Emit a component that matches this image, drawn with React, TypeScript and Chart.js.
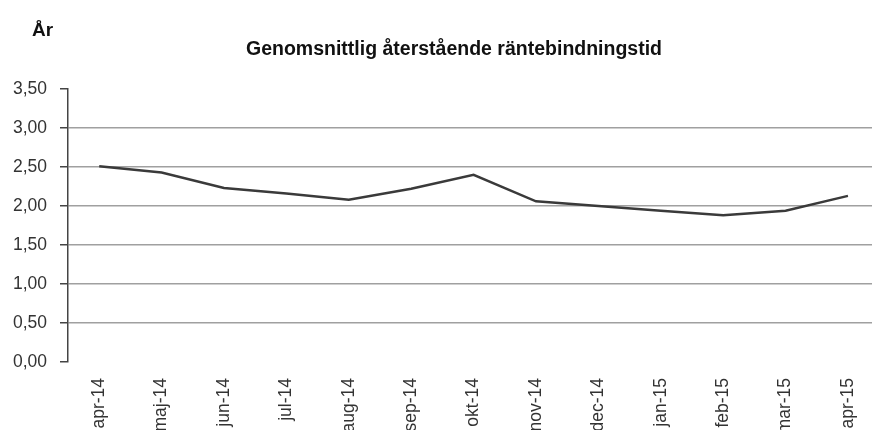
import React, { useEffect, useRef } from "react";
import { Chart, registerables } from "chart.js";

Chart.register(...registerables);

const categories = [
  "apr-14", "maj-14", "jun-14", "jul-14", "aug-14", "sep-14", "okt-14",
  "nov-14", "dec-14", "jan-15", "feb-15", "mar-15", "apr-15",
];
const values = [2.51, 2.43, 2.23, 2.16, 2.08, 2.22, 2.4, 2.06, 2.0, 1.94, 1.88, 1.94, 2.13];
const yTicks = [0, 0.5, 1, 1.5, 2, 2.5, 3, 3.5];
const titleText = "Genomsnittlig återstående räntebindningstid";
const unitText = "År";

const FONT = "'Liberation Sans', Arial, sans-serif";

const textPlugin = {
  id: "textPlugin",
  afterDraw(chart: any) {
    const ctx = chart.ctx;
    ctx.save();
    ctx.fillStyle = "#111";
    ctx.textBaseline = "alphabetic";
    ctx.font = `bold 19px ${FONT}`;
    ctx.textAlign = "left";
    ctx.fillText(unitText, 32, 36);
    ctx.font = `bold 19.5px ${FONT}`;
    ctx.textAlign = "center";
    ctx.fillText(titleText, 454, 55);
    ctx.restore();
  },
};

export default function App() {
  const ref = useRef<HTMLCanvasElement | null>(null);
  useEffect(() => {
    document.body.style.margin = "0";
    if (!ref.current) return;
    const chart = new Chart(ref.current, {
      type: "line",
      data: {
        datasets: [
          {
            data: values.map((v, i) => ({ x: i, y: v })),
            borderColor: "#3a3a3a",
            borderWidth: 2.5,
            pointRadius: 0,
            tension: 0,
            fill: false,
          },
        ],
      },
      options: {
        responsive: false,
        animation: false,
        layout: { padding: { top: 89, left: 0, right: 0, bottom: 0 } },
        plugins: { legend: { display: false }, title: { display: false }, tooltip: { enabled: false } },
        scales: {
          x: {
            type: "linear",
            min: -0.5,
            max: 12.385,
            grid: { display: false, drawTicks: false },
            border: { display: false },
            afterFit: (s: any) => {
              s.height = 68;
              s.paddingLeft = 0;
              s.paddingRight = 0;
            },
            ticks: {
              stepSize: 1,
              includeBounds: false,
              autoSkip: false,
              minRotation: 90,
              maxRotation: 90,
              padding: 16,
              color: "#333",
              font: { family: FONT, size: 17.5 },
              callback: (v: any) => (Number.isInteger(v) && categories[v] ? categories[v] : ""),
            },
          },
          y: {
            type: "linear",
            min: yTicks[0],
            max: yTicks[yTicks.length - 1],
            afterFit: (s: any) => {
              s.width = 68;
            },
            afterBuildTicks: (s: any) => {
              s.ticks = yTicks.map((v) => ({ value: v }));
            },
            border: { display: true, color: "#444", width: 1.5 },
            grid: {
              color: (c: any) =>
                c.tick && (c.tick.value === 0 || c.tick.value === 3.5) ? "rgba(0,0,0,0)" : "#a0a0a0",
              lineWidth: 1.5,
              tickColor: "#444",
              tickLength: 8,
              drawTicks: true,
            },
            ticks: {
              padding: 13,
              color: "#333",
              font: { family: FONT, size: 17.5 },
              callback: (v: any) => Number(v).toFixed(2).replace(".", ","),
            },
          },
        },
      },
      plugins: [textPlugin],
    });
    return () => chart.destroy();
  }, []);
  return (
    <div style={{ width: 872, height: 430 }}>
      <canvas ref={ref} width={872} height={430} style={{ display: "block" }} />
    </div>
  );
}
